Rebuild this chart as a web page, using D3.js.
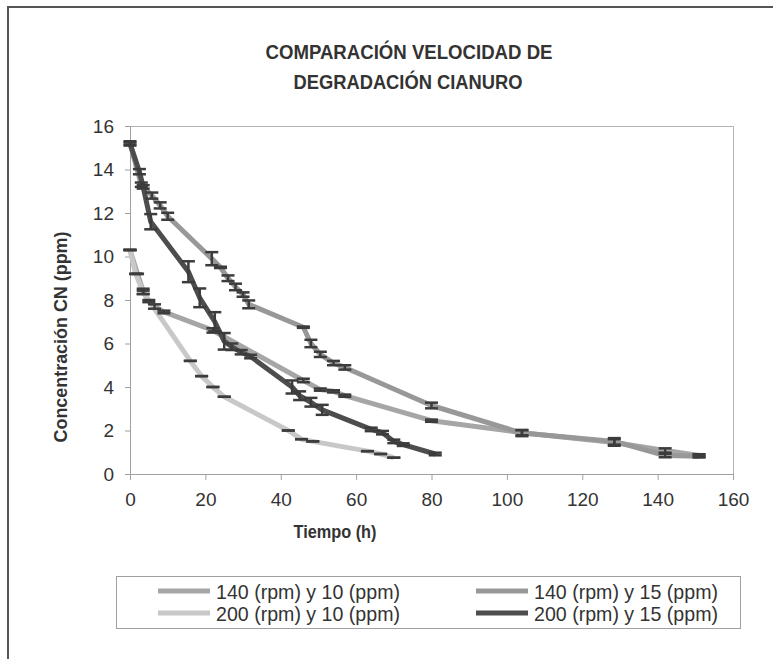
<!DOCTYPE html>
<html>
<head>
<meta charset="utf-8">
<script src="https://d3js.org/d3.v7.min.js"></script>
<style>
  body { margin: 0; background: #fff; }
  text { font-family: "Liberation Sans Narrow", "Arial Narrow", "Liberation Sans", sans-serif; fill: #333; }
</style>
</head>
<body>
<div id="chart"></div>
<script>
// series data: [tiempo (h), CN (ppm), error]
var s140_10 = [[0,10.3,0],[2,9.2,0],[3.5,8.4,0.12],[5,7.95,0.05],[6.5,7.7,0.1],[9,7.45,0.06],
  [22,6.6,0.1],[46,4.3,0.08],[50.5,3.88,0.05],[54,3.8,0.05],[57,3.6,0.05],
  [80,2.45,0.05],[104,1.9,0.12],[128.5,1.45,0.15],[142,1.08,0.1],[151,0.85,0.06]];
var s140_15 = [[0,15.2,0.05],[3,13.3,0.1],[5.8,12.8,0.14],[8,12.35,0.14],[10,11.85,0.16],
  [21.7,9.9,0.3],[24,9.5,0.03],[26,9.0,0.13],[28,8.6,0.15],[30,8.25,0.1],[31.5,7.8,0.18],
  [46,6.75,0.03],[48,6.0,0.17],[50.5,5.5,0.12],[54,5.1,0.1],[57,4.9,0.1],
  [80,3.15,0.13],[104,1.88,0.14],[128.5,1.5,0.15],[142,0.85,0.08],[151,0.82,0.06]];
var s200_10 = [[0,10.3,0],[1.5,9.2,0],[3.5,8.35,0.08],[16,5.2,0],[19,4.5,0],[22,4.0,0],
  [25,3.55,0],[42,2.0,0],[45.5,1.6,0],[48.5,1.5,0],[63,1.05,0],[66.5,0.92,0],[70,0.75,0]];
var s200_15 = [[0,15.2,0.1],[2.5,13.9,0.12],[3.5,13.2,0.08],[5.5,11.6,0.35],[15.5,9.3,0.48],
  [18.5,8.1,0.43],[22.5,7.0,0.44],[25,6.1,0.38],[27,5.85,0.15],[29.5,5.6,0.1],[32,5.4,0.08],
  [43,4.0,0.3],[45,3.6,0.2],[48,3.3,0.2],[51,2.95,0.23],[64,2.05,0.08],[67,1.9,0.08],
  [70,1.5,0.08],[72.5,1.35,0.06],[81,0.92,0.06]];

var seriesNames = ["140 (rpm) y 10 (ppm)", "140 (rpm) y 15 (ppm)", "200 (rpm) y 10 (ppm)", "200 (rpm) y 15 (ppm)"];
var seriesColors = ["#a6a6a6", "#989898", "#c8c8c8", "#4d4d4d"];
var allSeries = [s140_10, s140_15, s200_10, s200_15];

var xTicks = [0, 20, 40, 60, 80, 100, 120, 140, 160];
var yTicks = [0, 2, 4, 6, 8, 10, 12, 14, 16];

var svgWidth = 773, svgHeight = 659;
var margin = {top: 126, left: 130, right: 40, bottom: 185};
var chartWidth = svgWidth - margin.left - margin.right;
var chartHeight = svgHeight - margin.top - margin.bottom;

var svg = d3.select("#chart").append("svg")
  .attr("width", svgWidth)
  .attr("height", svgHeight);

// outer frame
svg.append("rect")
  .attr("x", 8).attr("y", 7)
  .attr("width", 820).attr("height", 700)
  .style("fill", "none").style("stroke", "#555").style("stroke-width", 2);

// title
svg.append("text")
  .attr("x", 409).attr("y", 59)
  .attr("text-anchor", "middle")
  .attr("textLength", 287).attr("lengthAdjust", "spacingAndGlyphs")
  .style("font-size", "20px").style("font-weight", "bold")
  .text("COMPARACIÓN VELOCIDAD DE");
svg.append("text")
  .attr("x", 408).attr("y", 89)
  .attr("text-anchor", "middle")
  .attr("textLength", 229).attr("lengthAdjust", "spacingAndGlyphs")
  .style("font-size", "20px").style("font-weight", "bold")
  .text("DEGRADACIÓN CIANURO");

var chartGroup = svg.append("g")
  .attr("transform", `translate(${margin.left}, ${margin.top})`);

var xScale = d3.scaleLinear().domain([0, 160]).range([0, chartWidth]);
var yScale = d3.scaleLinear().domain([0, 16]).range([chartHeight, 0]);

// plot border (top and right)
chartGroup.append("path")
  .attr("d", `M0,0.5H${chartWidth + 0.5}V${chartHeight}`)
  .style("fill", "none").style("stroke", "#b4b4b4");

var bottomAxis = d3.axisBottom(xScale).tickValues(xTicks).tickSize(6).tickPadding(13);
var leftAxis = d3.axisLeft(yScale).tickValues(yTicks).tickSize(5).tickPadding(11);

var xAxis = chartGroup.append("g")
  .attr("transform", `translate(0, ${chartHeight})`)
  .call(bottomAxis);
var yAxis = chartGroup.append("g").call(leftAxis);

[xAxis, yAxis].forEach(function(ax) {
  ax.select(".domain").style("stroke", "#a0a0a0");
  ax.selectAll(".tick line").style("stroke", "#a0a0a0");
  ax.selectAll(".tick text").style("font-size", "19px").style("fill", "#333")
    .style("font-family", "'Liberation Sans Narrow', 'Arial Narrow', 'Liberation Sans', sans-serif");
});

// axis labels
chartGroup.append("text")
  .attr("x", 205).attr("y", chartHeight + 64)
  .attr("text-anchor", "middle")
  .attr("textLength", 83).attr("lengthAdjust", "spacingAndGlyphs")
  .style("font-size", "18px").style("font-weight", "bold")
  .text("Tiempo (h)");

svg.append("text")
  .attr("transform", "translate(67, 337) rotate(-90)")
  .attr("text-anchor", "middle")
  .attr("textLength", 211).attr("lengthAdjust", "spacingAndGlyphs")
  .style("font-size", "19px").style("font-weight", "bold")
  .text("Concentración CN (ppm)");

var line = d3.line()
  .x(d => xScale(d[0]))
  .y(d => yScale(d[1]));

// lines
allSeries.forEach(function(data, i) {
  chartGroup.append("path")
    .datum(data)
    .attr("d", line)
    .style("fill", "none")
    .style("stroke", seriesColors[i])
    .style("stroke-width", 5)
    .style("stroke-linejoin", "round");
});

// error bars
var capW = 6.5;
allSeries.forEach(function(data, i) {
  var g = chartGroup.append("g")
    .style("stroke", "#3c3c3c").style("stroke-width", 2.5);
  data.forEach(function(d) {
    var x = xScale(d[0]);
    var y1 = yScale(d[1] + d[2]);
    var y2 = yScale(d[1] - d[2]);
    g.append("line").attr("x1", x).attr("x2", x).attr("y1", y1).attr("y2", y2);
    g.append("line").attr("x1", x - capW).attr("x2", x + capW).attr("y1", y1).attr("y2", y1);
    g.append("line").attr("x1", x - capW).attr("x2", x + capW).attr("y1", y2).attr("y2", y2);
  });
});

// legend
var legend = svg.append("g");
legend.append("rect")
  .attr("x", 116.5).attr("y", 576.5)
  .attr("width", 624).attr("height", 52)
  .style("fill", "none").style("stroke", "#a0a0a0");

var legendPos = [[158, 591], [476, 591], [158, 613], [476, 613]];
seriesNames.forEach(function(name, i) {
  var p = legendPos[i];
  legend.append("line")
    .attr("x1", p[0]).attr("x2", p[0] + 52)
    .attr("y1", p[1]).attr("y2", p[1])
    .style("stroke", seriesColors[i]).style("stroke-width", 5);
  legend.append("text")
    .attr("x", p[0] + 58).attr("y", p[1] + 8)
    .attr("textLength", 184).attr("lengthAdjust", "spacingAndGlyphs")
    .style("font-size", "21px")
    .text(name);
});
</script>
</body>
</html>
